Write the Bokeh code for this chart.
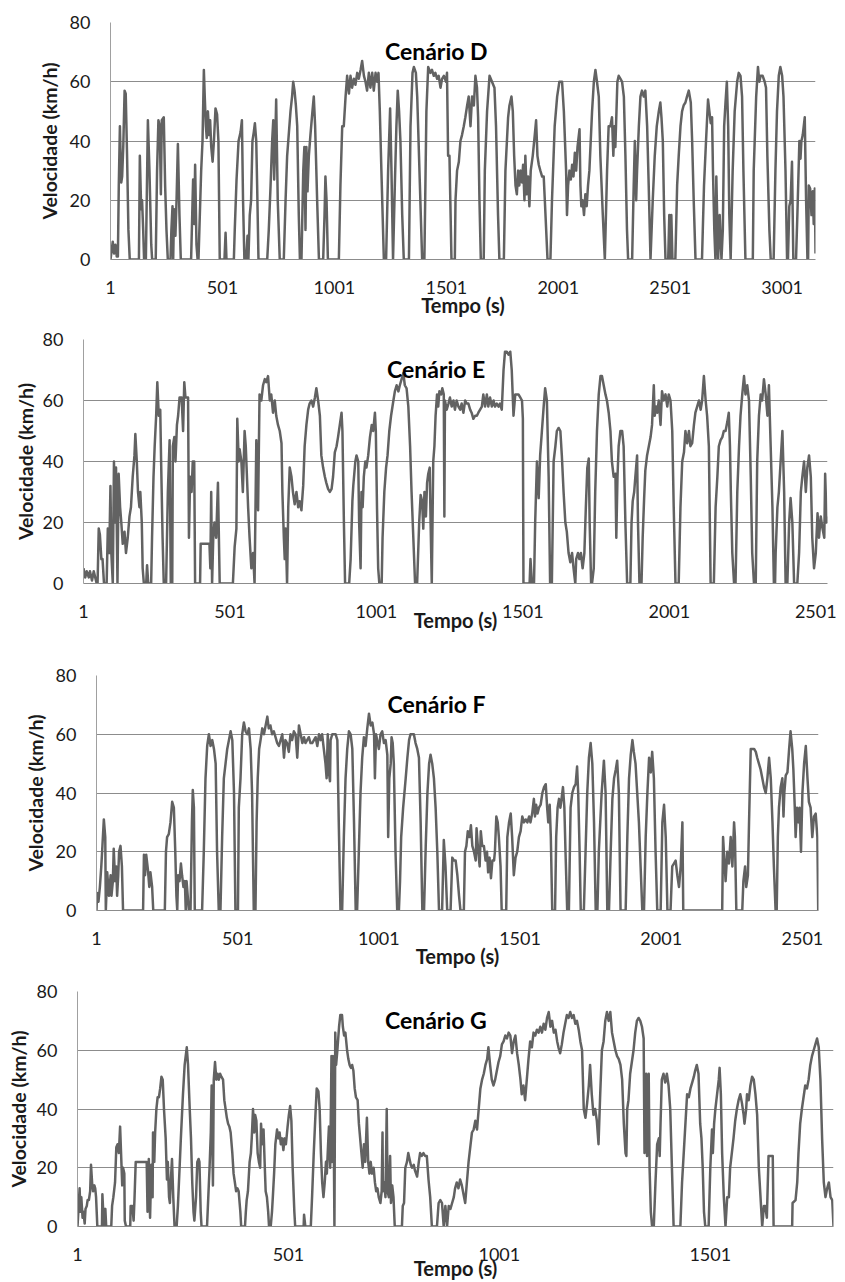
from bokeh.plotting import figure
from bokeh.models import Range1d, FixedTicker, Label
from bokeh.embed import file_html
from bokeh.resources import INLINE

# ---------------- data (tempo em s, velocidade em km/h) ----------------
cenario_d = [(1,0),(11,6),(17,2),(23,5),(29,1),(34,1),(38,25),(43,45),(49,26),(53,28),(58,38),(64,57),(69,56),(75,35),(81,10),(87,0),(128,0),(132,35),(138,17),(142,20),(147,10),(151,0),(159,0),(168,47),(175,30),(183,5),(187,0),(203,0),(209,30),(215,47),(221,45),(226,22),(230,47),(239,48),(245,25),(251,10),(257,0),(269,0),(273,10),(278,18),(281,0),(285,17),(291,8),(296,20),(302,39),(309,15),(315,0),(361,0),(366,15),(370,27),(375,12),(379,32),(385,5),(390,0),(394,0),(400,15),(406,30),(412,40),(418,64),(422,55),(427,45),(431,41),(436,50),(442,42),(446,47),(451,38),(457,33),(463,40),(470,51),(477,49),(483,40),(489,0),(510,0),(515,9),(519,0),(552,0),(556,10),(564,27),(573,40),(582,43),(588,47),(593,20),(599,0),(607,0),(613,8),(617,0),(623,15),(629,20),(635,40),(641,43),(646,46),(652,40),(656,25),(662,0),(701,0),(708,10),(716,25),(723,40),(728,47),(732,27),(737,40),(741,54),(748,20),(757,0),(775,0),(783,20),(790,35),(799,44),(805,50),(812,55),(817,60),(823,57),(829,52),(835,45),(842,15),(847,0),(854,0),(862,30),(867,38),(872,10),(876,38),(881,23),(887,35),(894,42),(903,50),(909,55),(915,45),(924,20),(932,0),(951,0),(957,15),(961,28),(966,20),(972,0),(1021,0),(1028,25),(1036,45),(1043,45),(1051,55),(1058,62),(1066,56),(1073,62),(1080,58),(1088,61),(1095,59),(1103,63),(1110,61),(1118,64),(1125,67),(1133,62),(1140,60),(1147,57),(1155,63),(1162,58),(1170,63),(1177,57),(1185,63),(1192,60),(1198,63),(1204,50),(1211,30),(1222,0),(1232,0),(1241,30),(1250,51),(1256,30),(1263,0),(1271,25),(1278,45),(1284,57),(1290,50),(1296,40),(1304,15),(1311,0),(1334,0),(1341,45),(1350,63),(1356,65),(1365,63),(1371,55),(1383,25),(1393,0),(1403,0),(1412,50),(1420,65),(1430,63),(1437,64),(1445,62),(1452,63),(1460,61),(1467,62),(1475,58),(1482,61),(1490,62),(1500,60),(1504,63),(1509,35),(1515,35),(1524,0),(1539,0),(1542,20),(1549,30),(1557,33),(1564,40),(1571,42),(1579,45),(1586,48),(1594,52),(1601,55),(1609,45),(1616,55),(1624,52),(1631,62),(1638,58),(1643,48),(1649,20),(1655,0),(1668,0),(1673,30),(1683,50),(1694,62),(1705,60),(1716,58),(1723,45),(1732,15),(1738,0),(1758,0),(1765,30),(1777,48),(1783,52),(1792,55),(1798,50),(1804,35),(1810,25),(1816,22),(1822,30),(1827,25),(1833,30),(1839,26),(1844,32),(1850,20),(1854,35),(1860,22),(1866,28),(1872,18),(1878,30),(1887,35),(1896,42),(1902,47),(1908,35),(1914,32),(1921,30),(1929,28),(1936,28),(1941,20),(1947,10),(1953,0),(1966,0),(1973,20),(1985,45),(1996,55),(2006,60),(2018,60),(2026,50),(2036,30),(2040,15),(2045,25),(2051,30),(2057,27),(2063,32),(2069,28),(2075,36),(2081,30),(2087,38),(2096,44),(2100,25),(2104,18),(2110,20),(2116,15),(2122,22),(2128,18),(2134,25),(2140,30),(2146,40),(2152,50),(2160,60),(2167,64),(2174,60),(2182,55),(2189,35),(2200,15),(2209,0),(2219,30),(2226,45),(2234,45),(2241,48),(2247,35),(2252,45),(2256,38),(2261,50),(2265,60),(2271,62),(2279,61),(2286,60),(2294,55),(2301,35),(2308,10),(2313,0),(2331,0),(2338,25),(2343,40),(2349,20),(2353,30),(2361,45),(2368,55),(2375,57),(2383,55),(2390,57),(2398,45),(2405,25),(2413,0),(2423,20),(2432,35),(2441,45),(2450,50),(2457,53),(2462,48),(2468,40),(2474,15),(2480,0),(2492,0),(2497,15),(2502,0),(2506,15),(2511,0),(2524,0),(2532,25),(2539,35),(2547,45),(2554,50),(2561,52),(2569,53),(2576,55),(2584,57),(2593,53),(2599,40),(2606,20),(2614,0),(2643,0),(2652,25),(2661,40),(2670,54),(2676,50),(2682,46),(2688,48),(2692,30),(2698,10),(2703,0),(2707,28),(2715,0),(2722,15),(2730,0),(2736,10),(2742,45),(2748,53),(2754,60),(2760,45),(2765,15),(2771,0),(2780,30),(2789,50),(2800,60),(2807,63),(2815,62),(2822,55),(2828,30),(2837,0),(2870,0),(2874,30),(2885,55),(2893,65),(2899,60),(2905,62),(2914,62),(2923,60),(2929,58),(2935,35),(2944,10),(2950,0),(2963,0),(2971,30),(2978,50),(2986,62),(2993,65),(3001,62),(3007,55),(3016,30),(3023,0),(3027,0),(3033,18),(3039,20),(3045,33),(3051,0),(3063,0),(3069,15),(3078,40),(3083,34),(3087,40),(3093,42),(3102,48),(3108,20),(3114,0),(3117,0),(3120,25),(3126,24),(3132,15),(3138,23),(3142,12),(3147,24),(3150,2)]

cenario_e = [(1,5),(7,2),(12,4),(19,2),(23,4),(30,1),(36,4),(41,2),(46,0),(49,0),(53,18),(57,16),(62,8),(66,8),(71,0),(80,0),(84,18),(89,10),(93,32),(96,10),(101,0),(105,40),(109,20),(112,38),(117,0),(121,36),(126,25),(130,20),(135,13),(141,17),(146,10),(152,15),(158,22),(163,25),(169,35),(175,42),(178,49),(183,40),(187,30),(192,25),(195,30),(200,20),(203,5),(207,0),(215,0),(218,6),(222,0),(232,0),(235,15),(240,35),(244,45),(249,55),(253,66),(258,55),(263,57),(266,40),(271,15),(275,0),(283,0),(289,30),(295,47),(299,0),(304,0),(306,45),(311,48),(315,40),(320,52),(324,55),(329,61),(336,61),(341,50),(345,66),(349,61),(358,61),(361,15),(365,35),(370,30),(374,40),(379,40),(382,0),(399,0),(401,13),(431,13),(434,5),(437,30),(440,0),(444,15),(448,20),(454,15),(460,33),(466,0),(511,0),(517,12),(523,18),(526,54),(531,40),(534,44),(540,40),(545,30),(551,50),(555,45),(559,35),(563,25),(568,15),(574,5),(580,10),(585,0),(591,47),(597,24),(602,62),(608,60),(614,65),(620,67),(625,66),(631,68),(637,60),(642,62),(648,56),(654,60),(659,55),(665,52),(671,50),(677,46),(680,30),(685,15),(688,8),(691,18),(696,0),(700,25),(705,38),(711,35),(716,30),(722,26),(728,30),(734,25),(739,27),(745,24),(751,32),(756,45),(762,52),(768,57),(773,59),(779,60),(785,58),(791,61),(796,64),(802,60),(808,55),(813,42),(819,38),(825,35),(830,33),(836,31),(842,30),(848,31),(853,35),(859,43),(865,45),(870,48),(876,52),(882,56),(885,50),(890,20),(894,0),(908,0),(913,8),(919,27),(922,32),(929,40),(933,42),(939,40),(942,20),(947,5),(950,30),(954,25),(958,35),(963,40),(967,38),(973,42),(979,48),(985,52),(990,50),(996,56),(999,50),(1003,25),(1007,5),(1011,0),(1019,0),(1022,15),(1028,30),(1034,38),(1039,42),(1045,50),(1051,55),(1059,60),(1064,63),(1070,65),(1076,63),(1081,65),(1087,67),(1093,69),(1098,65),(1104,64),(1110,58),(1116,45),(1121,30),(1127,15),(1133,0),(1140,0),(1147,20),(1152,29),(1157,27),(1161,18),(1165,30),(1170,22),(1174,33),(1178,36),(1183,38),(1186,20),(1190,0),(1195,40),(1199,45),(1203,55),(1208,62),(1212,58),(1216,63),(1222,62),(1226,64),(1231,62),(1233,22),(1235,60),(1241,57),(1247,59),(1252,61),(1258,58),(1264,60),(1269,57),(1275,60),(1281,58),(1287,57),(1292,59),(1298,56),(1304,60),(1309,59),(1315,59),(1321,57),(1326,56),(1332,54),(1338,55),(1344,55),(1349,56),(1355,57),(1361,58),(1366,62),(1372,58),(1378,62),(1383,58),(1389,61),(1395,58),(1401,60),(1406,58),(1412,59),(1418,58),(1423,59),(1429,57),(1435,70),(1440,76),(1446,76),(1452,75),(1458,76),(1463,70),(1469,55),(1475,62),(1480,62),(1486,62),(1492,61),(1498,60),(1501,54),(1503,0),(1524,0),(1527,8),(1532,0),(1539,0),(1543,20),(1549,40),(1555,28),(1560,42),(1566,50),(1572,58),(1577,64),(1583,60),(1589,35),(1594,0),(1600,0),(1606,40),(1612,45),(1617,50),(1623,51),(1629,50),(1634,42),(1640,30),(1646,20),(1651,17),(1657,10),(1663,7),(1669,10),(1674,5),(1680,0),(1683,8),(1689,10),(1694,8),(1699,10),(1705,5),(1711,10),(1716,25),(1721,38),(1726,41),(1729,20),(1734,0),(1737,0),(1743,5),(1748,30),(1754,50),(1760,62),(1766,68),(1771,68),(1777,65),(1783,62),(1788,60),(1794,56),(1800,50),(1805,40),(1811,35),(1817,36),(1820,15),(1824,35),(1828,45),(1834,50),(1840,50),(1845,45),(1851,20),(1857,0),(1868,0),(1872,20),(1876,27),(1881,30),(1885,35),(1891,42),(1894,20),(1899,0),(1906,0),(1910,15),(1915,28),(1919,37),(1925,42),(1931,45),(1937,48),(1942,52),(1948,65),(1951,55),(1956,58),(1960,56),(1965,60),(1971,52),(1976,63),(1982,60),(1988,62),(1994,58),(1999,62),(2005,60),(2011,50),(2016,25),(2022,0),(2033,0),(2039,25),(2045,40),(2051,43),(2056,50),(2062,46),(2068,50),(2073,45),(2079,46),(2085,52),(2090,56),(2096,58),(2102,60),(2108,57),(2113,60),(2119,68),(2125,60),(2130,55),(2136,45),(2142,0),(2153,0),(2159,25),(2165,35),(2170,45),(2176,47),(2182,48),(2187,50),(2193,50),(2199,53),(2204,56),(2208,45),(2211,30),(2216,10),(2222,0),(2227,0),(2233,30),(2239,45),(2244,55),(2250,62),(2256,68),(2261,62),(2267,65),(2273,60),(2279,35),(2284,10),(2290,0),(2296,0),(2301,40),(2307,55),(2313,62),(2318,60),(2324,67),(2330,62),(2336,55),(2341,65),(2347,45),(2353,25),(2358,0),(2362,0),(2364,10),(2370,25),(2375,30),(2381,40),(2387,50),(2393,30),(2398,0),(2404,0),(2410,20),(2415,28),(2421,20),(2427,0),(2438,0),(2444,10),(2450,30),(2455,35),(2461,40),(2467,30),(2472,38),(2478,42),(2484,35),(2489,15),(2495,5),(2501,10),(2507,23),(2512,15),(2518,22),(2524,18),(2530,15),(2533,36),(2538,20),(2541,22)]

cenario_f = [(1,0),(3,6),(8,3),(13,8),(18,15),(22,22),(27,31),(32,25),(34,0),(39,13),(45,5),(51,12),(54,5),(59,10),(62,21),(67,10),(71,15),(74,5),(78,12),(81,20),(86,22),(91,15),(95,0),(166,0),(169,19),(173,12),(177,19),(183,14),(188,8),(192,13),(198,8),(202,0),(243,0),(247,20),(251,25),(257,26),(263,30),(269,37),(275,35),(280,20),(284,5),(287,0),(290,12),(295,10),(300,16),(304,12),(309,8),(314,10),(317,0),(320,10),(324,5),(328,0),(334,0),(339,30),(342,41),(346,35),(349,0),(375,0),(381,20),(387,45),(393,56),(399,60),(405,56),(411,58),(417,55),(423,50),(428,20),(434,0),(440,0),(446,25),(452,45),(458,50),(464,55),(470,58),(476,61),(482,58),(488,40),(493,0),(502,0),(505,35),(511,45),(517,60),(523,64),(529,61),(535,60),(541,62),(547,55),(552,40),(558,0),(564,0),(568,30),(572,45),(577,55),(582,58),(588,62),(594,60),(600,63),(606,66),(611,62),(617,63),(623,60),(629,61),(635,59),(641,57),(647,56),(653,58),(659,60),(665,52),(670,58),(676,57),(682,54),(688,60),(694,58),(700,61),(706,60),(712,52),(718,63),(724,60),(730,57),(736,59),(741,57),(747,58),(753,59),(759,57),(765,57),(771,58),(777,59),(783,56),(789,60),(795,58),(800,60),(806,55),(812,50),(816,45),(820,60),(824,47),(828,44),(830,58),(836,60),(842,60),(848,60),(854,58),(859,30),(865,0),(871,0),(877,25),(883,45),(889,55),(895,61),(901,60),(907,55),(913,30),(919,0),(924,0),(930,20),(936,40),(942,52),(948,59),(954,56),(960,62),(966,67),(972,63),(978,64),(984,60),(987,45),(991,60),(995,58),(1001,55),(1007,60),(1013,61),(1019,57),(1025,58),(1031,53),(1034,25),(1038,45),(1043,50),(1046,59),(1050,57),(1054,50),(1060,20),(1066,0),(1072,0),(1076,10),(1080,25),(1087,35),(1096,45),(1102,52),(1108,58),(1113,60),(1125,60),(1131,57),(1137,55),(1143,52),(1149,30),(1155,0),(1161,0),(1167,22),(1173,40),(1179,50),(1184,53),(1190,50),(1196,45),(1202,35),(1208,20),(1214,0),(1225,0),(1231,24),(1237,15),(1243,0),(1255,0),(1261,18),(1267,17),(1273,17),(1279,12),(1285,5),(1290,0),(1302,0),(1306,20),(1311,22),(1316,27),(1322,25),(1327,29),(1332,22),(1338,20),(1344,17),(1347,28),(1353,20),(1358,15),(1362,27),(1367,22),(1373,22),(1379,17),(1384,20),(1388,13),(1393,18),(1398,11),(1403,17),(1409,17),(1412,20),(1417,32),(1422,30),(1426,25),(1432,15),(1436,0),(1452,0),(1456,25),(1462,30),(1468,33),(1473,25),(1479,12),(1485,18),(1491,20),(1497,25),(1503,27),(1509,32),(1515,30),(1521,31),(1527,30),(1533,32),(1538,30),(1544,33),(1550,38),(1554,32),(1558,36),(1563,33),(1568,35),(1574,36),(1580,40),(1586,42),(1592,43),(1597,35),(1601,30),(1606,36),(1610,25),(1615,0),(1625,0),(1629,25),(1634,35),(1639,38),(1644,35),(1648,38),(1653,42),(1658,35),(1662,20),(1668,0),(1674,0),(1680,35),(1686,40),(1692,42),(1698,43),(1703,49),(1707,40),(1712,20),(1716,0),(1727,0),(1733,20),(1739,40),(1745,52),(1751,57),(1757,50),(1763,30),(1769,0),(1775,0),(1780,20),(1790,40),(1798,51),(1804,40),(1810,0),(1816,0),(1822,20),(1828,38),(1834,45),(1840,48),(1845,51),(1851,40),(1857,0),(1875,0),(1881,25),(1887,45),(1893,53),(1899,58),(1904,54),(1910,50),(1916,40),(1922,30),(1928,15),(1934,0),(1940,0),(1946,25),(1952,40),(1958,52),(1964,47),(1969,54),(1975,45),(1981,20),(1987,0),(1999,0),(2005,30),(2011,36),(2017,25),(2023,0),(2034,0),(2040,15),(2046,16),(2052,17),(2058,12),(2064,8),(2070,15),(2076,30),(2079,0),(2217,0),(2220,25),(2223,20),(2229,10),(2235,20),(2241,16),(2247,25),(2253,15),(2259,30),(2262,25),(2267,0),(2288,0),(2292,10),(2298,15),(2302,8),(2308,12),(2312,30),(2318,55),(2324,55),(2330,55),(2336,54),(2341,52),(2347,50),(2353,48),(2359,45),(2365,42),(2371,40),(2377,45),(2383,52),(2389,45),(2395,30),(2400,15),(2406,0),(2410,0),(2414,25),(2418,35),(2424,42),(2430,45),(2434,32),(2437,40),(2442,46),(2448,47),(2454,55),(2459,61),(2465,55),(2469,48),(2474,35),(2477,25),(2482,35),(2487,30),(2491,35),(2496,20),(2501,40),(2507,50),(2513,56),(2519,45),(2524,37),(2530,35),(2536,25),(2542,32),(2548,33),(2554,25),(2557,0)]

cenario_g = [(1,0),(3,5),(6,13),(8,5),(10,10),(13,3),(15,5),(18,1),(20,6),(23,7),(25,9),(28,9),(31,12),(33,21),(36,14),(38,12),(41,14),(43,13),(45,10),(48,0),(59,0),(60,11),(62,5),(64,0),(67,6),(69,0),(81,0),(83,7),(86,10),(90,15),(93,27),(96,28),(99,25),(102,34),(105,22),(107,14),(109,20),(112,18),(113,2),(116,0),(126,0),(127,7),(131,7),(134,2),(136,9),(139,22),(165,22),(167,5),(170,23),(173,3),(176,21),(179,10),(180,32),(183,22),(185,32),(188,40),(191,44),(194,44),(197,47),(200,51),(203,50),(206,40),(210,30),(213,16),(215,22),(218,10),(220,8),(222,15),(225,23),(228,10),(231,0),(236,0),(239,7),(243,20),(246,30),(251,45),(255,55),(260,61),(263,55),(267,40),(270,30),(273,15),(276,5),(278,2),(282,10),(285,22),(288,23),(290,22),(293,5),(295,0),(308,0),(311,10),(314,20),(317,32),(319,48),(322,14),(324,50),(327,56),(330,50),(333,52),(336,50),(339,52),(342,51),(346,50),(349,43),(352,40),(355,37),(358,35),(361,34),(364,32),(368,25),(371,18),(374,15),(377,12),(380,13),(383,12),(387,5),(389,0),(398,0),(400,5),(402,9),(405,12),(409,22),(412,25),(414,30),(417,40),(420,32),(422,38),(425,36),(428,25),(431,22),(434,20),(436,35),(439,28),(442,33),(445,20),(447,12),(450,10),(453,5),(455,0),(459,0),(462,5),(464,10),(467,18),(470,28),(474,33),(477,30),(480,32),(483,28),(486,30),(489,26),(492,30),(495,28),(499,34),(502,38),(505,41),(508,36),(511,20),(515,5),(517,0),(537,0),(538,4),(541,0),(554,0),(557,10),(561,25),(565,38),(568,47),(572,46),(575,40),(578,25),(581,15),(584,10),(587,15),(590,22),(592,18),(595,28),(597,34),(600,20),(603,58),(605,22),(607,58),(610,0),(612,66),(614,55),(617,60),(621,68),(624,72),(628,72),(630,68),(633,65),(636,66),(640,60),(643,57),(646,55),(649,54),(652,55),(655,53),(658,47),(661,44),(665,43),(668,35),(671,30),(674,25),(677,20),(680,28),(683,22),(687,37),(690,22),(693,18),(696,22),(699,18),(703,20),(706,15),(709,12),(712,13),(715,10),(719,8),(722,12),(724,32),(725,12),(728,15),(731,10),(734,40),(736,12),(739,10),(742,24),(744,8),(747,14),(750,10),(753,0),(770,0),(772,7),(775,8),(778,20),(782,22),(785,25),(788,23),(791,21),(794,20),(798,21),(801,19),(806,17),(810,22),(813,25),(817,24),(821,25),(825,24),(829,24),(833,16),(837,10),(841,0),(853,0),(857,8),(861,9),(865,8),(869,0),(873,7),(877,0),(881,7),(885,6),(889,8),(893,10),(896,13),(900,15),(904,13),(908,16),(912,14),(916,11),(920,8),(924,15),(928,22),(932,27),(936,32),(940,33),(944,36),(948,33),(952,40),(956,47),(960,50),(964,52),(968,55),(972,57),(975,61),(979,55),(983,50),(987,48),(991,50),(995,53),(999,56),(1003,58),(1007,62),(1011,63),(1015,65),(1019,64),(1023,66),(1027,65),(1031,59),(1035,63),(1039,65),(1043,59),(1047,55),(1051,50),(1054,45),(1058,48),(1062,43),(1066,50),(1070,57),(1074,63),(1078,61),(1082,66),(1086,65),(1090,67),(1094,66),(1098,68),(1102,66),(1106,69),(1110,67),(1114,71),(1118,73),(1122,68),(1126,70),(1130,66),(1134,67),(1138,63),(1141,61),(1145,59),(1149,62),(1153,66),(1157,69),(1161,72),(1165,71),(1169,73),(1173,71),(1177,72),(1181,69),(1185,70),(1189,67),(1193,63),(1197,60),(1201,40),(1205,37),(1209,42),(1213,48),(1216,55),(1220,45),(1224,38),(1228,40),(1232,36),(1236,28),(1240,45),(1244,60),(1248,63),(1252,70),(1256,73),(1260,70),(1264,73),(1268,66),(1272,63),(1276,60),(1280,58),(1284,57),(1288,55),(1292,50),(1296,35),(1300,25),(1302,24),(1304,40),(1307,43),(1311,52),(1315,56),(1319,60),(1323,66),(1327,70),(1331,71),(1335,70),(1339,68),(1343,64),(1345,25),(1349,52),(1351,24),(1355,52),(1357,20),(1360,5),(1363,0),(1367,0),(1371,15),(1375,28),(1379,30),(1381,24),(1383,35),(1386,50),(1390,52),(1394,49),(1398,52),(1402,48),(1406,40),(1410,20),(1414,0),(1430,0),(1434,15),(1438,25),(1442,35),(1446,45),(1450,44),(1454,47),(1458,49),(1462,51),(1465,53),(1469,55),(1473,52),(1477,35),(1480,30),(1483,20),(1486,5),(1489,0),(1497,0),(1501,20),(1505,33),(1507,25),(1510,35),(1513,40),(1517,45),(1521,50),(1523,54),(1526,45),(1529,25),(1533,10),(1537,0),(1541,10),(1545,10),(1548,20),(1552,25),(1556,30),(1560,36),(1564,40),(1568,43),(1572,45),(1576,42),(1580,38),(1582,35),(1586,40),(1588,45),(1592,43),(1596,48),(1600,51),(1604,50),(1608,45),(1612,38),(1616,20),(1620,10),(1624,0),(1628,7),(1631,7),(1635,3),(1639,24),(1649,24),(1651,0),(1695,0),(1696,8),(1703,9),(1707,15),(1710,25),(1714,35),(1718,40),(1722,44),(1726,48),(1730,47),(1734,50),(1738,55),(1742,58),(1746,60),(1750,62),(1754,64),(1758,61),(1762,50),(1766,30),(1770,15),(1774,10),(1778,13),(1782,15),(1786,10),(1790,9),(1793,0)]

titles = ["Cenário D", "Cenário E", "Cenário F", "Cenário G"]
x_max = [3150, 2541, 2558, 1793]
x_ticks = [[1, 501, 1001, 1501, 2001, 2501, 3001],
           [1, 501, 1001, 1501, 2001, 2501],
           [1, 501, 1001, 1501, 2001, 2501],
           [1, 501, 1001, 1501]]
y_ticks = [0, 20, 40, 60, 80]
x_label = "Tempo (s)"
y_label = "Velocidade (km/h)"

# ---------------- styling / layout ----------------
FONT = "Lato"
LINE_COLOR = "#626262"
GRID_COLOR = "#8c8c8c"
AXIS_COLOR = "#a0a0a0"
TEXT_COLOR = "#1a1a1a"
PAGE_W = 845

# height, border_top, frame_height, border_left, border_right,
# title x fraction, y-label standoff, x-label standoff
layout = [
    (322, 22, 237, 110, 30, 0.462, 6, -4),
    (333, 17, 244, 83, 18, 0.474, 3, -13),
    (323, 20, 235, 96, 27, 0.471, 6, -4),
    (304, 13, 236, 77, 12, 0.474, 4, -8),
]

series = [cenario_d, cenario_e, cenario_f, cenario_g]
figs = []
for data, title, xm, xt, lay in zip(series, titles, x_max, x_ticks, layout):
    h, bt, fh, bl, br, tfrac, yls, xls = lay
    bb = h - bt - fh
    t = [a for a, b in data]
    v = [b for a, b in data]
    p = figure(width=PAGE_W, height=h, x_range=Range1d(1, xm), y_range=Range1d(0, 80),
               output_backend="svg", toolbar_location=None,
               min_border_top=bt, min_border_bottom=bb,
               min_border_left=bl, min_border_right=br)
    p.outline_line_color = None
    p.background_fill_color = "white"
    p.border_fill_color = "white"
    p.line(t, v, line_color=LINE_COLOR, line_width=2.5, line_join="round")

    p.xgrid.visible = False
    p.ygrid.ticker = FixedTicker(ticks=y_ticks)
    p.ygrid.grid_line_color = GRID_COLOR
    p.ygrid.grid_line_width = 1

    xa = p.xaxis[0]
    xa.ticker = FixedTicker(ticks=xt)
    xa.axis_line_color = GRID_COLOR
    xa.major_tick_line_color = None
    xa.minor_tick_line_color = None
    xa.major_tick_out = 0
    xa.major_tick_in = 0
    xa.major_label_standoff = 21
    xa.major_label_text_font = FONT
    xa.major_label_text_font_size = "18px"
    xa.major_label_text_color = TEXT_COLOR
    xa.axis_label = x_label
    xa.axis_label_text_font = FONT
    xa.axis_label_text_font_style = "bold"
    xa.axis_label_text_font_size = "20px"
    xa.axis_label_text_color = TEXT_COLOR
    xa.axis_label_standoff = xls

    ya = p.yaxis[0]
    ya.ticker = FixedTicker(ticks=y_ticks)
    ya.axis_line_color = AXIS_COLOR
    ya.major_tick_line_color = None
    ya.minor_tick_line_color = None
    ya.major_tick_out = 0
    ya.major_tick_in = 0
    ya.major_label_standoff = 20
    ya.major_label_text_font = FONT
    ya.major_label_text_font_size = "18px"
    ya.major_label_text_color = TEXT_COLOR
    ya.axis_label = y_label
    ya.axis_label_text_font = FONT
    ya.axis_label_text_font_style = "bold"
    ya.axis_label_text_font_size = "19.5px"
    ya.axis_label_text_color = TEXT_COLOR
    ya.axis_label_standoff = yls

    # scenario title inside the plot area
    p.add_layout(Label(x=1 + tfrac * (xm - 1), y=70.3, text=title,
                       text_font=FONT, text_font_style="bold", text_font_size="23px",
                       text_color="#000000", text_align="center",
                       text_baseline="alphabetic"))
    figs.append(p)

# separate roots so that each panel keeps its own frame position
open("out.html", "w").write(file_html(figs, INLINE))
